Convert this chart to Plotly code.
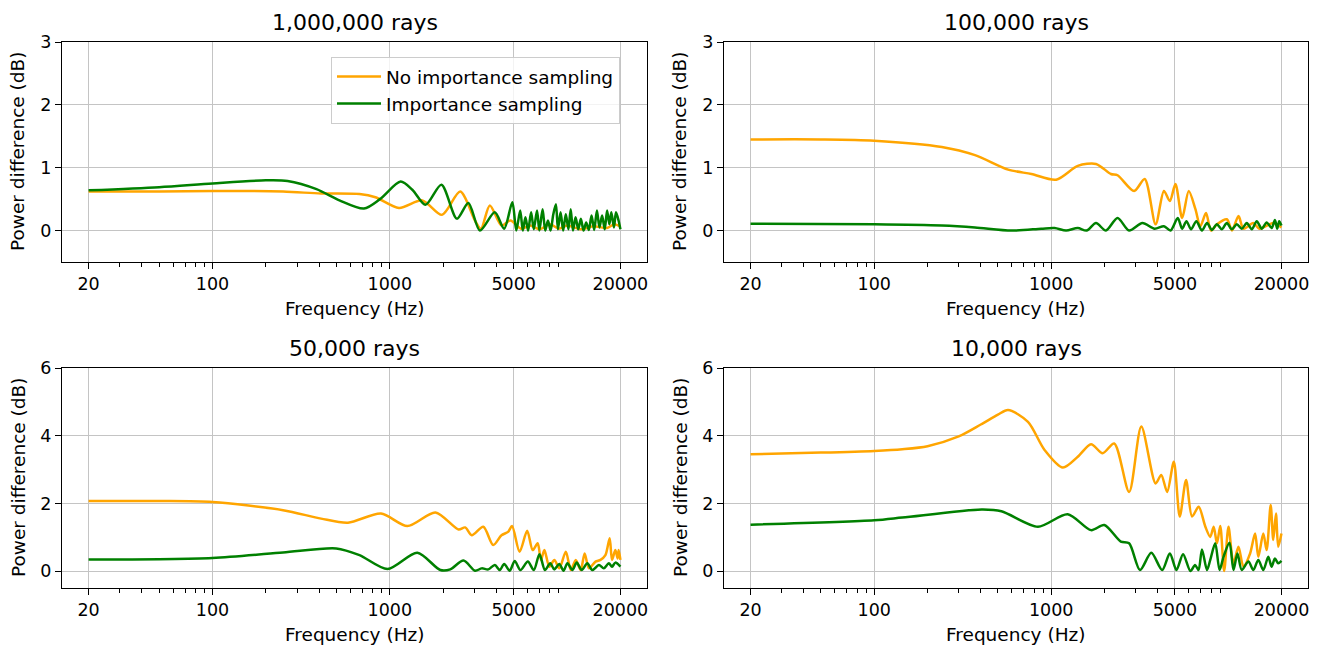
import plotly.graph_objects as go

ORANGE = "#FFA500"
GREEN = "#008000"

titles = ["1,000,000 rays", "100,000 rays", "50,000 rays", "10,000 rays"]
series_names = ["No importance sampling", "Importance sampling"]

x_tickvals = [20, 100, 1000, 5000, 20000]
x_ticktext = ["20", "100", "1000", "5000", "20000"]
x_minor = [30, 40, 50, 60, 70, 80, 90, 200, 300, 400, 500, 600, 700, 800, 900,
           2000, 3000, 4000, 6000, 7000, 8000, 9000]

# ---- 1,000,000 rays ----
f1_no = [20, 50, 100, 250, 410, 675, 830, 1127, 1525, 1970, 2496, 3024, 3269, 3668, 4270, 4797,
         5515, 6200, 7000, 8000, 9000, 10000, 12000, 14000, 16800, 18500, 20000]
v1_no = [0.62, 0.62, 0.63, 0.62, 0.59, 0.58, 0.53, 0.36, 0.48, 0.25, 0.62, 0.16, 0.03, 0.40, 0.08, 0.16,
         0.03, 0.08, 0.02, 0.10, 0.03, 0.08, 0.02, 0.07, 0.04, 0.10, 0.06]
f1_is = [20, 50, 100, 200, 265, 386, 520, 715, 880, 1152, 1340, 1590, 1955, 2391, 2776, 3225, 3911,
         4420, 4912, 5170, 5443, 5628, 5824, 6031, 6269, 6491, 6771, 6978, 7279, 7533, 7803, 8078,
         8364, 8654, 8882, 9194, 9506, 9839, 10178, 10485, 10802, 11172, 11564, 11966, 12389,
         12823, 13278, 13743, 14230, 14738, 15235, 15764, 16314, 16822, 17330, 17774, 18399,
         18874, 19530, 20000]
v1_is = [0.64, 0.69, 0.75, 0.80, 0.79, 0.66, 0.48, 0.35, 0.50, 0.78, 0.65, 0.41, 0.73, 0.19, 0.44, 0.00, 0.29,
         0.03, 0.45, 0.00, 0.32, 0.00, 0.21, 0.00, 0.29, 0.02, 0.32, 0.00, 0.34, 0.00, 0.16, 0.00,
         0.26, 0.42, 0.02, 0.29, 0.00, 0.26, 0.02, 0.34, 0.00, 0.21, 0.02, 0.19, 0.00,
         0.13, 0.01, 0.24, 0.01, 0.32, 0.05, 0.24, 0.02, 0.32, 0.10, 0.29, 0.05,
         0.29, 0.16, 0.02]

# ---- 100,000 rays ----
f2_no = [20, 50, 100, 241, 371, 571, 773, 1067, 1413, 1791, 2174, 2371, 2940, 3374, 3890, 4333, 4680,
         5036, 5494, 5988, 6529, 6963, 7493, 7998, 8637, 9833, 10500, 11440, 12200, 13870, 15000,
         17980, 20000]
v2_no = [1.45, 1.45, 1.43, 1.33, 1.20, 0.97, 0.90, 0.81, 1.03, 1.06, 0.90, 0.88, 0.63, 0.82, 0.10, 0.63, 0.47,
         0.74, 0.20, 0.63, 0.34, 0.07, 0.28, 0.00, 0.10, 0.18, 0.00, 0.23, 0.03, 0.12, 0.03,
         0.12, 0.05]
f2_is = [20, 100, 241, 371, 596, 879, 1045, 1213, 1413, 1585, 1791, 2037, 2371, 2755, 3275, 3837, 4333,
         4720, 5190, 5494, 5810, 6170, 6610, 7110, 7590, 8090, 8630, 9200, 9820, 10490, 11190, 11940,
         12740, 13590, 14500, 15470, 16500, 17600, 18370, 18930, 19420, 20000]
v2_is = [0.11, 0.10, 0.08, 0.05, 0.00, 0.03, 0.04, 0.00, 0.04, 0.00, 0.12, 0.00, 0.20, 0.00, 0.12, 0.03, 0.07,
         0.00, 0.20, 0.03, 0.15, 0.02, 0.15, 0.00, 0.12, 0.01, 0.10, 0.02, 0.12, 0.02, 0.10, 0.03,
         0.12, 0.02, 0.15, 0.03, 0.13, 0.04, 0.17, 0.03, 0.15, 0.08]

# ---- 50,000 rays ----
f3_no = [20, 50, 100, 250, 410, 581, 892, 1257, 1809, 2442, 2662, 2900, 3370, 3833, 4268, 4652, 4895,
         5400, 5957, 6402, 6827, 7128, 7449, 7949, 8479, 9043, 9842, 10505, 11199, 11935, 12567,
         13292, 14473, 15436, 16462, 17394, 17933, 18731, 19290, 19560, 20000]
v3_no = [2.07, 2.07, 2.04, 1.80, 1.55, 1.43, 1.70, 1.33, 1.73, 1.23, 1.29, 1.06, 1.31, 0.77, 1.06, 1.16, 1.33,
         0.57, 1.19, 0.62, 0.82, 0.33, 0.62, 0.13, 0.33, 0.08, 0.57, 0.03, 0.33, 0.03, 0.52,
         0.08, 0.28, 0.33, 0.47, 0.97, 0.33, 0.62, 0.37, 0.62, 0.33]
f3_is = [20, 100, 250, 499, 675, 972, 1430, 1929, 2194, 2605, 3025, 3302, 3595, 3913, 4175, 4420, 4750,
         5066, 5460, 6009, 6496, 6988, 7506, 8039, 8464, 9043, 9552, 10049, 10723, 11334, 12100,
         13012, 13882, 15126, 16120, 17198, 17933, 18731, 20000]
v3_is = [0.34, 0.39, 0.55, 0.67, 0.47, 0.06, 0.54, 0.03, 0.05, 0.31, 0.01, 0.08, 0.05, 0.18, 0.03, 0.21, 0.01,
         0.30, 0.03, 0.28, 0.03, 0.50, 0.03, 0.23, 0.05, 0.21, 0.01, 0.23, 0.03, 0.25, 0.03,
         0.23, 0.03, 0.18, 0.08, 0.23, 0.13, 0.25, 0.13]

# ---- 10,000 rays ----
f4_no = [20, 50, 100, 144, 200, 300, 400, 500, 570, 739, 917, 1163, 1413, 1679, 1951, 2270, 2755, 3229, 3890,
         4185, 4520, 4930, 5325, 5780, 6250, 6810, 7430, 7920, 8280, 8640, 9020, 9490, 10040,
         10710, 11430, 12200, 13300, 14190, 14800, 15790, 16490, 17380, 17980, 18620, 19180, 20000]
v4_no = [3.45, 3.50, 3.55, 3.60, 3.69, 3.98, 4.33, 4.62, 4.76, 4.41, 3.58, 3.06, 3.38, 3.75, 3.48, 3.77, 2.34, 4.27, 2.59,
         2.84, 2.34, 3.23, 1.61, 2.69, 1.61, 1.90, 1.31, 1.01, 1.31, 0.82, 1.33, 0.00, 1.31,
         0.23, 0.72, 0.13, 0.52, 1.11, 0.42, 1.11, 0.62, 1.95, 0.92, 1.70, 0.72, 1.11]
f4_is = [20, 100, 144, 404, 523, 841, 1239, 1679, 1995, 2473, 2755, 3175, 3677, 4236, 4680, 5100, 5560,
         6120, 6500, 6800, 7110, 7590, 7920, 8450, 8940, 9410, 10170, 10710, 11280, 11930, 13010,
         13870, 14800, 15790, 16850, 17590, 18370, 19180, 20000]
v4_is = [1.37, 1.50, 1.58, 1.82, 1.77, 1.31, 1.68, 1.21, 1.36, 0.87, 0.82, 0.03, 0.54, 0.03, 0.52, 0.03, 0.50,
         0.00, 0.18, 0.03, 0.64, 0.03, 0.33, 0.82, 0.03, 0.42, 0.84, 0.03, 0.52, 0.03, 0.28,
         0.03, 0.33, 0.03, 0.42, 0.13, 0.37, 0.23, 0.30]

panels = [
    (f1_no, v1_no, f1_is, v1_is),
    (f2_no, v2_no, f2_is, v2_is),
    (f3_no, v3_no, f3_is, v3_is),
    (f4_no, v4_no, f4_is, v4_is),
]
y_ranges = [[-0.5, 3], [-0.5, 3], [-0.5, 6], [-0.5, 6]]
y_ticks = [[0, 1, 2, 3], [0, 1, 2, 3], [0, 2, 4, 6], [0, 2, 4, 6]]

W, H = 1323, 650
# pixel boxes (left, right, top, bottom)
boxes = [(62, 647, 42, 262), (724, 1308, 42, 262), (62, 647, 368, 588), (724, 1308, 368, 588)]

FONT = "DejaVu Sans"
fig = go.Figure()
for i, (fn, vn, fi, vi) in enumerate(panels):
    k = "" if i == 0 else str(i + 1)
    fig.add_trace(go.Scatter(x=fn, y=vn, mode="lines", name=series_names[0],
                             line=dict(color=ORANGE, width=2.5, shape="spline", smoothing=0.8),
                             xaxis="x" + k, yaxis="y" + k, showlegend=(i == 0)))
    fig.add_trace(go.Scatter(x=fi, y=vi, mode="lines", name=series_names[1],
                             line=dict(color=GREEN, width=2.5, shape="spline", smoothing=0.8),
                             xaxis="x" + k, yaxis="y" + k, showlegend=(i == 0)))

layout = {}
annotations = []
for i, (l, r, t, b) in enumerate(boxes):
    k = "" if i == 0 else str(i + 1)
    layout["xaxis" + k] = dict(
        domain=[l / W, r / W], anchor="y" + k, type="log", range=[1.151, 4.451],
        tickmode="array", tickvals=x_tickvals, ticktext=x_ticktext,
        ticks="outside", ticklen=6, tickwidth=1.2, tickcolor="black",
        showline=True, linecolor="black", linewidth=1.3, mirror=True,
        showgrid=True, gridcolor="#c4c4c4", gridwidth=1.3, zeroline=False,
        automargin=False,
        tickfont=dict(family=FONT, size=17.5, color="black"),
        minor=dict(tickmode="array", tickvals=x_minor, ticks="outside", ticklen=3.5,
                   tickwidth=1, tickcolor="black", showgrid=False),
    )
    layout["yaxis" + k] = dict(
        domain=[1 - b / H, 1 - t / H], anchor="x" + k, range=y_ranges[i],
        tickmode="array", tickvals=y_ticks[i],
        ticks="outside", ticklen=6, tickwidth=1.2, tickcolor="black",
        showline=True, linecolor="black", linewidth=1.3, mirror=True,
        showgrid=True, gridcolor="#c4c4c4", gridwidth=1.3, zeroline=False,
        automargin=False,
        tickfont=dict(family=FONT, size=17.5, color="black"),
    )
    cx = (l + r) / 2 / W
    annotations.append(dict(text=titles[i], x=cx, y=1 - (t - 20) / H, xref="paper", yref="paper",
                            xanchor="center", yanchor="middle", showarrow=False,
                            font=dict(family=FONT, size=22, color="black")))
    annotations.append(dict(text="Frequency (Hz)", x=cx, y=1 - (b + 46) / H, xref="paper", yref="paper",
                            xanchor="center", yanchor="middle", showarrow=False,
                            font=dict(family=FONT, size=18.5, color="black")))
    annotations.append(dict(text="Power difference (dB)", x=(l - 44) / W, y=1 - (t + b) / 2 / H,
                            xref="paper", yref="paper", xanchor="center", yanchor="middle",
                            textangle=-90, showarrow=False,
                            font=dict(family=FONT, size=18.5, color="black")))

fig.update_layout(
    **layout,
    annotations=annotations,
    width=W, height=H,
    margin=dict(l=0, r=0, t=0, b=0, autoexpand=False),
    paper_bgcolor="white", plot_bgcolor="white",
    showlegend=True,
    legend=dict(x=331 / W, y=1 - 57 / H, xanchor="left", yanchor="top",
                bgcolor="rgba(255,255,255,0.8)", bordercolor="#cccccc", borderwidth=1,
                itemwidth=44,
                font=dict(family=FONT, size=18.5, color="black"), tracegroupgap=0),
)

fig.write_html("out.html")
